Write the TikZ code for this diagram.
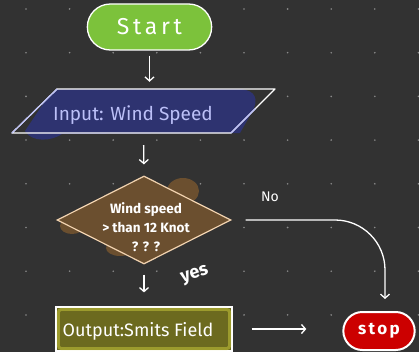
\documentclass[tikz,border=0pt]{standalone}
\usepackage{fontspec}
\setmainfont{Fira Sans}
\usetikzlibrary{shapes.geometric,shapes.misc,arrows.meta,calc}
\definecolor{bg}{HTML}{323232}
\definecolor{dotc}{HTML}{8A8A8A}
\definecolor{startgreen}{HTML}{7CC23B}
\definecolor{inblue}{HTML}{2E3370}
\definecolor{lav}{HTML}{BCC0F8}
\definecolor{decbrown}{HTML}{6B4F2F}
\definecolor{peach}{HTML}{F2D3B0}
\definecolor{outolive}{HTML}{6C6A1F}
\definecolor{ylw}{HTML}{D8D840}
\definecolor{stopred}{HTML}{CC0000}
\tikzset{
  arr/.style={draw=white, line width=1.3pt, -{Straight Barb[length=4pt,width=9pt]}},
  lbl/.style={text=white, inner sep=0pt},
}
\begin{document}
\begin{tikzpicture}[x=1pt,y=-1pt]
\fill[bg] (0,0) rectangle (419,352);
\useasboundingbox (0,0) rectangle (419,352);
\foreach \i in {0,...,9} \foreach \j in {0,...,7}
  \fill[dotc] (26+43.6*\i, 9+43.7*\j) circle (0.9);
% start
\node[rounded rectangle, draw=white, line width=1.3pt, fill=startgreen,
  minimum width=131pt, minimum height=46pt, text=white,
  font=\fontsize{23}{26}\selectfont\addfontfeature{LetterSpace=16}] (start) at (149.5,27) {Start};
% input
\node[minimum width=174pt, minimum height=44pt, inner sep=0pt] (input) at (143.5,111) {};
\coordinate (itl) at (57,89);
\coordinate (itr) at (275,89);
\coordinate (ibr) at (231,133);
\coordinate (ibl) at (12,133);
\fill[inblue] (57,89) -- (240,89) .. controls (256,90) and (259,100) .. (252,112) -- (240,133)
  -- (62,134) .. controls (52,141) and (32,143) .. (25,131) -- (45,101) -- cycle;
\draw[white, line width=1.2pt, line join=round] (itl) -- (itr) -- (ibr) -- (ibl) -- cycle;
\draw[lav, line width=1.2pt, line cap=round] (itl) -- (ibl);
\draw[lav, line width=1.2pt, line cap=round] (ibr) -- ($(ibr)!0.55!(itr)$);
\node[lbl, text=lav, font=\fontsize{19}{22}\selectfont] (intext) at (133,115) {Input: Wind Speed};
% decision
\fill[decbrown] (183,191) ellipse (16 and 13);
\fill[decbrown] (72,226) ellipse (12 and 8);
\fill[decbrown] (120,248) ellipse (14 and 8);
\node[diamond, draw=peach, line width=1.2pt, fill=decbrown, minimum width=174pt, minimum height=88pt,
  inner sep=0pt] (dec) at (144,220) {};
\node[lbl, align=center, font=\fontsize{13.5}{19}\selectfont\bfseries] (dtext) at (146,227)
  {Wind speed\\ > than 12 Knot\\ ? ? ?};
% output
\node[draw=white, line width=1.2pt, fill=outolive, minimum width=176pt, minimum height=44pt,
  inner sep=0pt] (out) at (144,329) {};
\draw[ylw, line width=3pt, opacity=0.45, rounded corners=3pt]
  ([xshift=3pt,yshift=-3pt]out.north west) rectangle ([xshift=-3pt,yshift=3pt]out.south east);
\node[lbl, font=\fontsize{18}{20}\selectfont] (outtext) at (138,331) {Output:Smits Field};
% stop
\node[rounded rectangle, draw=white, line width=2pt, fill=stopred, minimum width=78pt, minimum height=38pt,
  text=white, font=\fontsize{17}{19}\selectfont\bfseries\addfontfeature{LetterSpace=14}] (stop) at (379,331) {stop};
% connectors
\draw[arr, shorten <=5pt, shorten >=7pt] (start.south) -- (start.south |- input.north);
\draw[arr, shorten <=12pt, shorten >=11pt] (input.south) -- (dec.north);
\draw[arr, shorten <=10pt, shorten >=14pt] (dec.south) -- (out.north);
\draw[arr, shorten <=19pt, shorten >=36pt] (out.east) -- (out.east -| stop.west);
\draw[arr, rounded corners=50pt, shorten <=14pt, shorten >=12pt] (dec.east) -| ([xshift=6pt]stop.north);
% labels
\node[lbl, font=\fontsize{14}{16}\selectfont] (nolbl) at (270,197) {No};
\node[lbl, rotate=18, font=\fontsize{18}{20}\selectfont\bfseries] (yeslbl) at (195,275) {yes};
\end{tikzpicture}
\end{document}
